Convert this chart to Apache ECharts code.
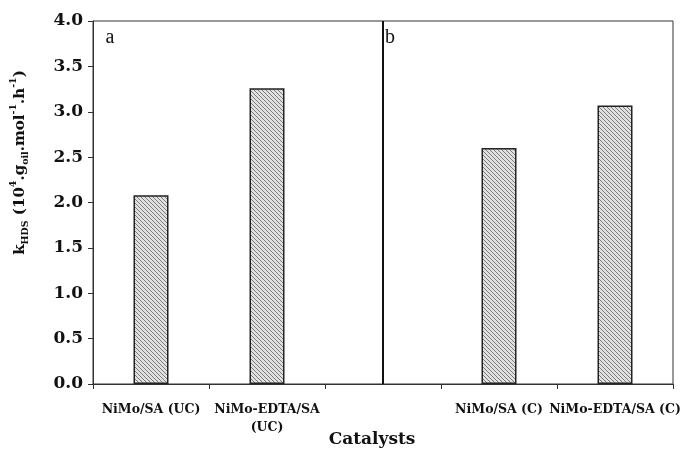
<!DOCTYPE html>
<html><head><meta charset="utf-8">
<script src="https://cdn.jsdelivr.net/npm/echarts@6/dist/echarts.min.js"></script>
<style>html,body{margin:0;padding:0;background:#fff}#c{width:684px;height:453px}</style>
</head><body><div id="c"></div>
<script>
var categories = ['NiMo/SA (UC)', 'NiMo-EDTA/SA\n(UC)', '', 'NiMo/SA (C)', 'NiMo-EDTA/SA (C)'];
var kHDS = [2.08, 3.26, null, 2.60, 3.07];
var yTicks = [0, 0.5, 1, 1.5, 2, 2.5, 3, 3.5, 4];
var panelLabels = ['a', 'b'];

function hatch() {
  var c = document.createElement('canvas');
  c.width = 4; c.height = 4;
  var g = c.getContext('2d');
  g.fillStyle = '#e0e0e0'; g.fillRect(0, 0, 4, 4);
  g.strokeStyle = '#7c7c7c'; g.lineWidth = 1;
  g.beginPath();
  g.moveTo(-1, -1); g.lineTo(5, 5);
  g.moveTo(-1, 3); g.lineTo(1, 5);
  g.moveTo(3, -1); g.lineTo(5, 1);
  g.stroke();
  return c;
}
var font = 'DejaVu Serif';
var chart = echarts.init(document.getElementById('c'));
chart.setOption({
  animation: false,
  grid: { left: 93, right: 11, top: 21, bottom: 69, show: true, borderColor: '#333', borderWidth: 1, outerBoundsMode: 'none', containLabel: false },
  xAxis: {
    type: 'category', data: categories,
    axisLine: { lineStyle: { color: '#333', width: 1 } },
    axisTick: { show: true, length: 5, lineStyle: { color: '#333' } },
    axisLabel: { interval: 0, fontFamily: font, fontWeight: 'bold', fontSize: 12.5, color: '#111', margin: 17, lineHeight: 18 },
    name: 'Catalysts', nameLocation: 'middle', nameGap: 47, nameMoveOverlap: false,
    nameTextStyle: { fontFamily: font, fontWeight: 'bold', fontSize: 17, color: '#111', padding: [0, 22, 0, 0] }
  },
  yAxis: {
    type: 'value', min: yTicks[0], max: yTicks[yTicks.length - 1], interval: 0.5,
    splitLine: { show: false },
    axisLine: { show: true, lineStyle: { color: '#333' } },
    axisTick: { show: true, length: 5, lineStyle: { color: '#333' } },
    axisLabel: { fontFamily: font, fontWeight: 'bold', fontSize: 17, color: '#111', margin: 10,
      formatter: function (v) { return v.toFixed(1); } },
    name: '{b|k}{s|HDS}{b| (10}{p|4}{b|.g}{s|oil}{b|.mol}{p|-1}{b|.h}{p|-1}{b|)}',
    nameLocation: 'middle', nameGap: 62, nameMoveOverlap: false,
    nameTextStyle: {
      padding: [0, 0, 0, 80],
      rich: {
        b: { fontFamily: font, fontWeight: 'bold', fontSize: 15, color: '#111', lineHeight: 22 },
        s: { fontFamily: font, fontWeight: 'bold', fontSize: 9.5, color: '#111', lineHeight: 10, verticalAlign: 'bottom' },
        p: { fontFamily: font, fontWeight: 'bold', fontSize: 9.5, color: '#111', lineHeight: 10, verticalAlign: 'top' }
      }
    }
  },
  series: [{
    type: 'bar', data: kHDS, barWidth: 35,
    itemStyle: { color: { image: hatch(), repeat: 'repeat' }, borderColor: '#222', borderWidth: 1.5 },
    markLine: {
      silent: true, symbol: 'none', label: { show: false },
      lineStyle: { color: '#111', width: 2, type: 'solid' },
      data: [[{ xAxis: 2, yAxis: 0 }, { xAxis: 2, yAxis: 4 }]]
    },
    markPoint: {
      symbol: 'circle', symbolSize: 0,
      label: { show: true, position: 'inside', fontFamily: 'Liberation Serif', fontSize: 20, color: '#111',
        formatter: function (p) { return p.name; } },
      data: [
        { name: panelLabels[0], xAxis: 0, yAxis: 3.82, label: { offset: [-41, 0] } },
        { name: panelLabels[1], xAxis: 2, yAxis: 3.82, label: { offset: [7, 0] } }
      ]
    }
  }]
});
</script></body></html>
